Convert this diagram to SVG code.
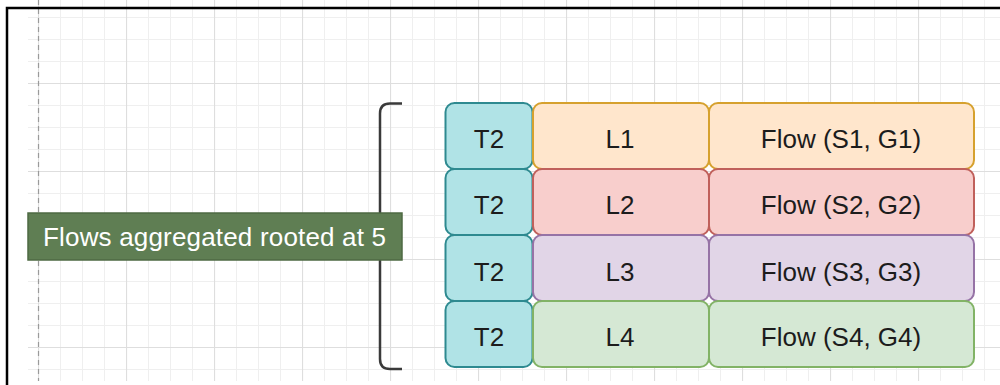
<svg xmlns="http://www.w3.org/2000/svg" width="1000" height="385" viewBox="0 0 1000 385">
  <defs>
    <!-- background grid: 22px minor cells, 88px major cells -->
    <pattern id="grid" patternUnits="userSpaceOnUse" x="38" y="-5" width="88" height="88">
      <path d="M22.5,0V88M44.5,0V88M66.5,0V88M0,22.5H88M0,44.5H88M0,66.5H88" stroke="#efefef" stroke-width="1" fill="none"/>
      <path d="M0.5,0V88M0,0.5H88" stroke="#dedede" stroke-width="1.2" fill="none"/>
    </pattern>
    <style>
      .cell { stroke-width: 2; }
      .t2 { fill: #b0e3e6; stroke: #2e8a90; }
      .r1 { fill: #ffe6cc; stroke: #d6a12e; }
      .r2 { fill: #f8cecc; stroke: #c0605b; }
      .r3 { fill: #e1d5e7; stroke: #9673a6; }
      .r4 { fill: #d5e8d4; stroke: #82b366; }
      .lbl { font-family: "Liberation Sans", Arial, Helvetica, sans-serif; font-size: 26px; fill: #1c1c1c; text-anchor: middle; }
      .tag { font-family: "Liberation Sans", Arial, Helvetica, sans-serif; font-size: 26px; fill: #ffffff; }
    </style>
  </defs>

  <rect x="0" y="0" width="1000" height="385" fill="#ffffff"/>
  <rect x="28" y="0" width="972" height="381" fill="url(#grid)"/>
  <line x1="38.5" y1="0" x2="38.5" y2="381" stroke="#9a9a9a" stroke-width="1.2" stroke-dasharray="5 4"/>

  <!-- frame -->
  <path d="M7,385V8H1000" fill="none" stroke="#000000" stroke-width="2.5"/>

  <!-- connectors -->
  <g id="connectors">
    <path d="M402,103.5H390Q380,103.5 380,113.5V359Q380,369 390,369H402" fill="none" stroke="#3a3a3a" stroke-width="2.5"/>
  </g>

  <g id="row1">
    <rect class="cell t2" x="445.5" y="103" width="87" height="66" rx="9"/>
    <rect class="cell r1" x="533" y="103" width="176" height="66" rx="9"/>
    <rect class="cell r1" x="709" y="103" width="265" height="66" rx="9"/>
    <text class="lbl" x="489" y="148">T2</text>
    <text class="lbl" x="620" y="148">L1</text>
    <text class="lbl" x="841" y="148">Flow (S1, G1)</text>
  </g>
  <g id="row2">
    <rect class="cell t2" x="445.5" y="169" width="87" height="66" rx="9"/>
    <rect class="cell r2" x="533" y="169" width="176" height="66" rx="9"/>
    <rect class="cell r2" x="709" y="169" width="265" height="66" rx="9"/>
    <text class="lbl" x="489" y="214">T2</text>
    <text class="lbl" x="620" y="214">L2</text>
    <text class="lbl" x="841" y="214">Flow (S2, G2)</text>
  </g>
  <g id="row3">
    <rect class="cell t2" x="445.5" y="235" width="87" height="66" rx="9"/>
    <rect class="cell r3" x="533" y="235" width="176" height="66" rx="9"/>
    <rect class="cell r3" x="709" y="235" width="265" height="66" rx="9"/>
    <text class="lbl" x="489" y="281">T2</text>
    <text class="lbl" x="620" y="281">L3</text>
    <text class="lbl" x="841" y="281">Flow (S3, G3)</text>
  </g>
  <g id="row4">
    <rect class="cell t2" x="445.5" y="301" width="87" height="66" rx="9"/>
    <rect class="cell r4" x="533" y="301" width="176" height="66" rx="9"/>
    <rect class="cell r4" x="709" y="301" width="265" height="66" rx="9"/>
    <text class="lbl" x="489" y="346">T2</text>
    <text class="lbl" x="620" y="346">L4</text>
    <text class="lbl" x="841" y="346">Flow (S4, G4)</text>
  </g>

  <g id="aggregate-label">
    <rect x="28" y="213" width="374" height="47" fill="#5f7e53" stroke="#4e6a43" stroke-width="1.5"/>
    <text class="tag" x="43" y="246" textLength="343">Flows aggregated rooted at 5</text>
  </g>
</svg>
